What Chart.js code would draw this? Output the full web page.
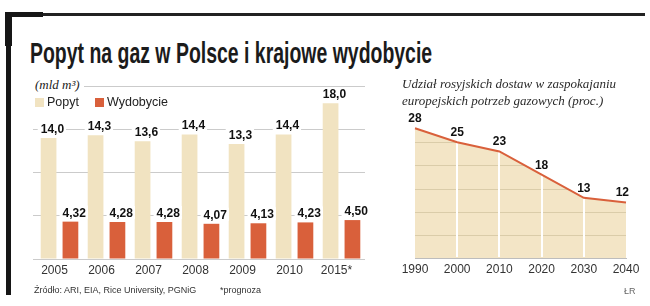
<!DOCTYPE html>
<html>
<head>
<meta charset="utf-8">
<script src="https://cdn.jsdelivr.net/npm/chart.js@4.4.1/dist/chart.umd.min.js"></script>
<style>
    body { margin: 0; width: 650px; height: 306px; overflow: hidden; position: relative; background: #fff; color: #222; font-family: "Liberation Sans", Arial, sans-serif; }
    .abs { position: absolute; }
    #frame { position: absolute; left: 0; top: 0; }
    #title { left: 30px; top: 38px; font: bold 30px/30px "Liberation Sans Narrow", "Liberation Sans", sans-serif; white-space: nowrap; transform-origin: 0 0; color: #1b1b1b; }
    #unit { left: 33px; top: 77px; width: 49px; height: 16px; background: #fff; font: italic 13px/16px "Liberation Serif", serif; padding-left: 2px; }
    .legend { top: 95px; font-size: 12.5px; line-height: 14px; }
    .legend i { display: inline-block; width: 9px; height: 9px; margin-right: 3px; vertical-align: -1px; }
    #shareTitle { left: 402px; top: 75px; font: italic 13px/17px "Liberation Serif", serif; white-space: nowrap; color: #2a2a2a; }
    #source { left: 34px; top: 285px; font-size: 9px; color: #333; }
    #forecast { left: 220px; top: 285px; font-size: 9px; color: #333; }
    #author { left: 624px; top: 286px; font-size: 9px; color: #666; }
</style>
</head>
<body>
<svg id="frame" width="650" height="306">
    <rect x="5" y="12" width="38" height="5" fill="#161616"/>
    <rect x="43" y="13" width="602" height="3" fill="#222"/>
    <rect x="5" y="12" width="7" height="34" fill="#161616"/>
    <rect x="6" y="12" width="5" height="283" fill="#161616"/>
</svg>

<div id="title" class="abs">Popyt na gaz w Polsce i krajowe wydobycie</div>

<div class="abs" style="left:0;top:70px;width:380px;height:230px"><canvas id="gasChart" width="380" height="230"></canvas></div>
<div class="abs" style="left:380px;top:70px;width:270px;height:230px"><canvas id="shareChart" width="270" height="230"></canvas></div>

<div id="unit" class="abs">(mld m³)</div>
<div class="abs legend" style="left:35px"><i style="background:#f1e3c1"></i>Popyt</div>
<div class="abs legend" style="left:95px"><i style="background:#d9603b"></i>Wydobycie</div>

<div id="shareTitle" class="abs">Udział rosyjskich dostaw w zaspokajaniu<br>europejskich potrzeb gazowych (proc.)</div>

<div id="source" class="abs">Źródło: ARI, EIA, Rice University, PGNiG</div>
<div id="forecast" class="abs">*prognoza</div>
<div id="author" class="abs">ŁR</div>

<script>
// Data
const years = ['2005', '2006', '2007', '2008', '2009', '2010', '2015*'];
const demand = [14.0, 14.3, 13.6, 14.4, 13.3, 14.4, 18.0];
const production = [4.32, 4.28, 4.28, 4.07, 4.13, 4.23, 4.50];

const shareYears = ['1990', '2000', '2010', '2020', '2030', '2040'];
const russianShare = [28, 25, 23, 18, 13, 12];

const beige = '#f1e3c1';
const orange = '#d9603b';
const fontFamily = '"Liberation Sans", Arial, sans-serif';

// Squeeze the title to the width it has in the picture
const title = document.getElementById('title');
title.style.transform = `scaleX(${402 / title.scrollWidth})`;

// Polish number format: comma as decimal separator
const formatValue = (v, digits) => v.toFixed(digits).replace('.', ',');

// Value labels left-aligned over bars, with white box cutting the grid line
const barLabels = {
    id: 'barLabels',
    afterDatasetsDraw(chart) {
        const ctx = chart.ctx;
        ctx.save();
        ctx.font = `bold 12px ${fontFamily}`;
        chart.data.datasets.forEach((ds, di) => {
            chart.getDatasetMeta(di).data.forEach((bar, i) => {
                const txt = formatValue(ds.data[i], di === 0 ? 1 : 2);
                const x = bar.x - bar.width / 2;
                const y = bar.y - 5;
                const w = ctx.measureText(txt).width;
                ctx.fillStyle = '#fff';
                ctx.fillRect(x - 3, y - 11, w + 5, 13);
                ctx.fillStyle = '#111';
                ctx.fillText(txt, x, y);
            });
        });
        ctx.restore();
    }
};

new Chart(document.getElementById('gasChart'), {
    type: 'bar',
    data: {
        labels: years,
        datasets: [
            { label: 'Popyt', data: demand, backgroundColor: beige },
            { label: 'Wydobycie', data: production, backgroundColor: orange }
        ]
    },
    options: {
        responsive: false,
        animation: false,
        layout: { padding: { top: 16, left: 33, right: 15, bottom: 0 } },
        datasets: { bar: { categoryPercentage: 0.93, barPercentage: 0.72 } },
        plugins: { legend: { display: false }, tooltip: { enabled: false } },
        scales: {
            x: {
                grid: { display: false, drawTicks: false, tickLength: 0 },
                border: { display: false },
                ticks: { color: '#333', font: { family: fontFamily, size: 12 }, padding: 4, labelOffset: -5, maxRotation: 0 },
                afterFit: s => { s.height = 41; }
            },
            y: {
                min: 0,
                max: 20,
                ticks: { display: false, stepSize: 5 },
                border: { display: false },
                grid: { color: '#cbcbcb', drawTicks: true, tickLength: 3 },
                afterFit: s => { s.width = 3; }
            }
        }
    },
    plugins: [barLabels]
});

// Grid lines only visible inside the filled area (source-atop)
const areaGrid = {
    id: 'areaGrid',
    beforeDatasetsDraw(chart) {
        const { ctx, chartArea: a, scales: { x, y } } = chart;
        ctx.save();
        ctx.globalCompositeOperation = 'source-atop';
        ctx.strokeStyle = '#dacca9';
        ctx.lineWidth = 1;
        for (let v = 5; v < 30; v += 5) {
            const py = Math.round(y.getPixelForValue(v)) + 0.5;
            ctx.beginPath();
            ctx.moveTo(a.left, py);
            ctx.lineTo(a.right, py);
            ctx.stroke();
        }
        ctx.strokeStyle = '#fff';
        ctx.lineWidth = 2;
        for (let i = 1; i < shareYears.length - 1; i++) {
            const px = Math.round(x.getPixelForValue(i));
            ctx.beginPath();
            ctx.moveTo(px, a.top);
            ctx.lineTo(px, a.bottom - 1);
            ctx.stroke();
        }
        ctx.restore();
    },
    afterDatasetsDraw(chart) {
        const ctx = chart.ctx;
        const a = chart.chartArea;
        ctx.save();
        ctx.font = `bold 12px ${fontFamily}`;
        ctx.fillStyle = '#111';
        chart.getDatasetMeta(0).data.forEach((pt, i) => {
            const txt = String(russianShare[i]);
            const w = ctx.measureText(txt).width;
            const x = Math.min(pt.x - w / 2, a.right + 3 - w);
            ctx.fillText(txt, x, pt.y - 6);
        });
        ctx.restore();
    }
};

new Chart(document.getElementById('shareChart'), {
    type: 'line',
    data: {
        labels: shareYears,
        datasets: [{
            data: russianShare,
            borderColor: orange,
            borderWidth: 2,
            backgroundColor: '#f3e5c6',
            fill: 'origin',
            pointRadius: 0,
            tension: 0
        }]
    },
    options: {
        responsive: false,
        animation: false,
        layout: { padding: { top: 49, left: 35, right: 24, bottom: 0 } },
        plugins: {
            legend: { display: false },
            tooltip: { enabled: false },
            filler: { drawTime: 'beforeDatasetsDraw' }
        },
        scales: {
            x: {
                offset: false,
                grid: { display: false, drawTicks: false, tickLength: 0 },
                border: { color: '#bdbdbd' },
                ticks: { color: '#333', font: { family: fontFamily, size: 12 }, padding: 4, maxRotation: 0 },
                afterFit: s => { s.height = 42; }
            },
            y: { display: false, min: 0, max: 30 }
        }
    },
    plugins: [areaGrid]
});
</script>
</body>
</html>
